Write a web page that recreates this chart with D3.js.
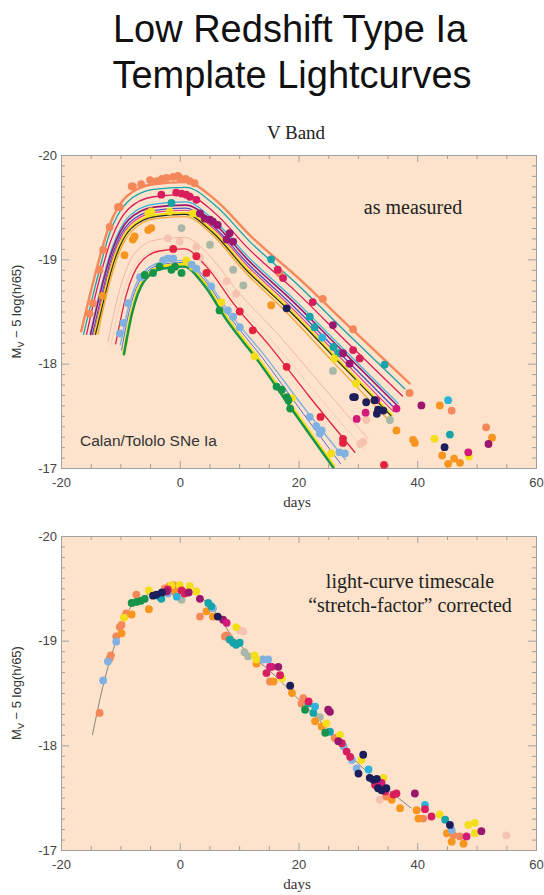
<!DOCTYPE html>
<html><head><meta charset="utf-8">
<script src="https://cdn.jsdelivr.net/npm/d3@7"></script>
<style>body{margin:0;background:#fff}svg{display:block}</style>
</head><body>
<svg id="c" width="544" height="895"></svg>
<script>
// ---------- tick labels ----------
const xTickValues = [-20, 0, 20, 40, 60];
const yTickValues = [-20, -19, -18, -17];

// ---------- top panel: template fits (day, magnitude) ----------
const fitSalmon   = [[-16.6,-18.31],[-14.5,-18.80],[-12.0,-19.30],[-9.0,-19.60],[-4.5,-19.72],[1,-19.74],[6,-19.57],[12,-19.22],[20,-18.82],[29,-18.33],[38.7,-17.81]];
const fitTeal     = [[-16.2,-18.28],[-14.2,-18.75],[-11.8,-19.25],[-8.8,-19.55],[-4.4,-19.67],[1.0,-19.69],[5.9,-19.52],[11.8,-19.17],[19.6,-18.77],[28.4,-18.28],[37.9,-17.76]];
const fitCrimson  = [[-15.7,-18.28],[-14.1,-18.68],[-11.6,-19.18],[-8.7,-19.48],[-4.4,-19.60],[1.0,-19.62],[5.8,-19.45],[11.6,-19.10],[19.4,-18.70],[28.1,-18.21],[37.5,-17.69]];
const fitCyan     = [[-15.1,-18.28],[-13.8,-18.61],[-11.4,-19.11],[-8.6,-19.41],[-4.3,-19.53],[1.0,-19.55],[5.7,-19.38],[11.4,-19.03],[19.0,-18.63],[27.6,-18.14],[36.8,-17.62]];
const fitPurple   = [[-15.0,-18.28],[-13.8,-18.58],[-11.4,-19.08],[-8.6,-19.38],[-4.3,-19.50],[1.0,-19.52],[5.7,-19.35],[11.4,-19.00],[19.0,-18.60],[27.6,-18.11],[36.8,-17.59]];
const fitBlue     = [[-14.7,-18.28],[-13.6,-18.55],[-11.3,-19.05],[-8.5,-19.35],[-4.2,-19.47],[0.9,-19.49],[5.6,-19.32],[11.3,-18.97],[18.8,-18.57],[27.3,-18.08],[36.4,-17.56]];
const fitPink     = [[-14.5,-18.28],[-13.5,-18.53],[-11.2,-19.03],[-8.4,-19.33],[-4.2,-19.45],[0.9,-19.47],[5.6,-19.30],[11.2,-18.95],[18.6,-18.55],[27.0,-18.06],[36.0,-17.54]];
const fitYellowA  = [[-14.2,-18.29],[-13.3,-18.50],[-11.0,-19.00],[-8.3,-19.30],[-4.1,-19.42],[0.9,-19.44],[5.5,-19.27],[11.0,-18.92],[18.4,-18.52],[26.7,-18.03],[35.6,-17.51]];
const fitBlack    = [[-14.2,-18.28],[-13.3,-18.49],[-11.0,-18.99],[-8.3,-19.29],[-4.1,-19.41],[0.9,-19.43],[5.5,-19.26],[11.0,-18.91],[18.4,-18.51],[26.7,-18.02],[35.6,-17.50]];
const fitOrange   = [[-13.8,-18.28],[-13.1,-18.47],[-10.8,-18.97],[-8.1,-19.27],[-4.1,-19.39],[0.9,-19.41],[5.4,-19.24],[10.8,-18.89],[18.0,-18.49],[26.1,-18.00],[34.8,-17.48]];
const fitPale1    = [[-12.1,-18.21],[-9.8,-18.77],[-7.4,-19.07],[-3.7,-19.19],[0.8,-19.21],[4.9,-19.04],[9.8,-18.69],[16.4,-18.29],[23.8,-17.80],[31.7,-17.28]];
const fitPale2    = [[-11.6,-18.18],[-9.6,-18.67],[-7.2,-18.97],[-3.6,-19.09],[0.8,-19.11],[4.8,-18.94],[9.6,-18.59],[16.0,-18.19],[23.2,-17.70],[31.0,-17.18]];
const fitRed      = [[-10.8,-18.19],[-9.0,-18.66],[-6.75,-18.96],[-3.4,-19.08],[0.75,-19.10],[4.5,-18.93],[9.0,-18.58],[15.0,-18.18],[21.75,-17.69],[29.5,-17.15]];
const fitLightBlue= [[-10.0,-18.18],[-8.6,-18.55],[-6.5,-18.85],[-3.2,-18.97],[0.7,-18.99],[4.3,-18.82],[8.6,-18.47],[14.4,-18.07],[20.9,-17.58],[27.9,-17.08]];
const fitBlueThin = [[-9.8,-18.13],[-8.4,-18.53],[-6.3,-18.83],[-3.15,-18.95],[0.7,-18.97],[4.2,-18.80],[8.4,-18.45],[14.0,-18.05],[20.3,-17.56],[27.1,-17.04]];
const fitYellowB  = [[-9.4,-18.10],[-8.0,-18.51],[-6.0,-18.81],[-3.0,-18.93],[0.7,-18.95],[4.0,-18.78],[8.0,-18.43],[13.4,-18.03],[19.4,-17.54],[25.9,-17.02]];
const fitGreen    = [[-9.4,-18.09],[-8.0,-18.49],[-6.0,-18.79],[-3.0,-18.91],[0.7,-18.93],[4.0,-18.76],[8.0,-18.41],[13.4,-18.01],[19.4,-17.52],[25.9,-17.00]];

// ---------- top panel: measured points (day, magnitude) ----------
const topSalmon = [[-15.2,-18.48],[-14.6,-18.58],[-13.5,-18.90],[-12.9,-19.09],[-11.8,-19.31],[-10.4,-19.50],[-10.1,-19.50],[-8.1,-19.70],[-7.9,-19.70],[-6.5,-19.72],[-5.0,-19.76],[-3.9,-19.75],[-3.0,-19.77],[-2.2,-19.78],[-1.1,-19.79],[-0.3,-19.80],[0,-19.78],[1.0,-19.77],[1.7,-19.75],[2.5,-19.73],[16.8,-18.87],[24.1,-18.62],[29.2,-18.33],[38.7,-17.72],[45.8,-17.55],[51.6,-17.39]];
const topTeal = [[-1.4,-19.54],[15.4,-19.00],[21.9,-18.45],[22.7,-18.35],[25.9,-18.16],[26.7,-18.10],[34.5,-17.99],[45.5,-17.32]];
const topCyan = [[24.0,-18.25],[45.2,-17.65]];
const topCrimson = [[-3.1,-19.62],[-0.6,-19.64],[0.3,-19.63],[1.1,-19.62],[1.7,-19.60],[2.8,-19.57],[16.5,-18.90],[17.4,-18.82],[22.4,-18.59],[29.2,-18.13],[30.3,-18.05]];
const topRed = [[-1.1,-19.10],[2.8,-19.03],[4.5,-18.87],[10.1,-18.50],[12.3,-18.32],[18.0,-17.97],[23.7,-17.49],[27.5,-17.28],[27.5,-17.24],[34.4,-17.03]];
const topPurple = [[3.4,-19.44],[4.2,-19.39],[5.1,-19.38],[5.6,-19.36],[6.4,-19.33],[8.4,-19.25],[7.9,-19.19],[9.0,-19.17],[25.8,-18.37],[27.5,-18.10],[28.6,-18.00],[40.7,-17.60],[52.0,-17.23]];
const topMagenta = [[29.8,-17.47],[31.3,-17.53],[33.1,-17.65],[36.5,-17.57],[48.6,-17.15]];
const topYellow = [[-5.3,-19.44],[-4.8,-19.46],[-1.7,-19.46],[2.2,-19.44],[1.1,-18.99],[2.2,-18.93],[7.0,-18.59],[12.6,-18.07],[18.9,-17.67],[25.5,-17.14],[26.0,-18.05],[29.7,-17.81],[42.9,-17.28],[48.7,-17.11]];
const topOrange = [[-13.0,-18.65],[-9.3,-19.04],[-7.9,-19.19],[-7.6,-19.22],[-5.3,-19.28],[-4.8,-19.30],[15.4,-18.56],[36.5,-17.36],[39.3,-17.27],[39.6,-17.24],[43.8,-17.60],[44.2,-17.12],[45.2,-17.04],[46.2,-17.09],[47.2,-17.05],[52.6,-17.29]];
const topGreyGreen = [[0.3,-19.30],[5.1,-19.14],[9.0,-18.90],[10.7,-18.75],[25.8,-17.93],[35.4,-17.46]];
const topPalePink = [[-2.0,-19.20],[0,-19.17],[2.8,-19.12],[3.4,-19.02],[7.9,-18.79],[9.5,-18.67],[30.4,-17.23],[30.9,-17.25],[31.4,-17.46]];
const topLightBlue = [[-10.1,-18.29],[-9.5,-18.39],[-8.7,-18.58],[-6.7,-18.83],[-6.4,-18.83],[-2.8,-18.99],[-2.0,-19.01],[-1.1,-19.01],[2.0,-18.95],[2.8,-18.91],[5.3,-18.74],[8.1,-18.51],[9.0,-18.45],[10.1,-18.35],[21.9,-17.49],[23.0,-17.40],[23.6,-17.33],[23.9,-17.36],[26.9,-17.15],[27.8,-17.14]];
const topGreen = [[-5.9,-18.85],[-4.5,-18.87],[-3.4,-18.93],[-1.4,-18.90],[-0.8,-18.93],[0.3,-18.87],[6.7,-18.51],[16.3,-17.78],[17.2,-17.75],[18.0,-17.68],[18.3,-17.65],[18.6,-17.57]];
const topNavy = [[18.0,-18.53],[29.2,-17.68],[29.5,-17.68],[31.4,-17.63],[32.8,-17.65],[33.2,-17.52],[33.4,-17.56],[34.3,-17.55],[44.6,-17.20]];

// ---------- bottom panel: stretch-corrected template and points ----------
const template = [[-14.7,-18.10],[-13,-18.55],[-11,-18.95],[-9,-19.25],[-6,-19.42],[-3,-19.48],[0,-19.50],[3,-19.44],[6,-19.27],[9,-19.03],[12,-18.86],[15,-18.72],[20,-18.44],[25,-18.15],[30,-17.83],[35,-17.58],[39,-17.40]];
const botSalmon = [[-13.5,-18.31],[-11.8,-18.83],[-11.6,-18.86],[-10.7,-19.04],[-10.1,-19.13],[-9.8,-19.15],[-9.0,-19.26],[-9.3,-19.23],[-7.3,-19.44],[-2.5,-19.50],[-1.7,-19.52],[-1.1,-19.53],[-0.6,-19.52],[0,-19.50],[3.4,-19.23],[7.6,-19.04],[7.9,-19.05],[15.2,-18.61],[20.8,-18.45],[20.5,-18.40],[26.1,-18.07],[34.8,-17.51],[41.0,-17.30],[46.1,-17.14],[47.2,-17.13]];
const botLightBlue = [[-12.9,-18.62],[-12.1,-18.80],[-10.7,-18.99],[-2.0,-19.45],[5.6,-19.31],[14.0,-18.82],[14.9,-18.82],[27.6,-17.99],[29.0,-17.86],[29.8,-17.78],[45.8,-17.19]];
const botOrange = [[-9.8,-19.07],[-8.1,-19.25],[-5.2,-19.30],[-1.0,-19.47],[4.5,-19.28],[5.6,-19.23],[12.9,-18.78],[15.8,-18.61],[18.9,-18.50],[22.8,-18.23],[23.9,-18.18],[35.7,-17.48],[37.1,-17.40],[39.9,-17.38],[40.2,-17.30],[45.0,-17.16],[45.8,-17.08],[47.8,-17.06]];
const botYellow = [[-9.4,-19.22],[-5.2,-19.48],[-1.4,-19.53],[0,-19.53],[1.7,-19.52],[2.8,-19.47],[9.5,-19.13],[12.6,-18.86],[12.9,-18.82],[17.2,-18.64],[24.7,-18.21],[27.0,-18.10],[30.6,-17.86],[34.3,-17.69],[43.8,-17.34],[48.6,-17.24],[49.7,-17.26],[49.7,-17.16]];
const botGreen = [[-8.1,-19.36],[-7.3,-19.37],[-6.6,-19.38],[-5.9,-19.40],[21.1,-18.34],[24.5,-18.12]];
const botNavy = [[-4.5,-19.43],[-3.9,-19.44],[-3.0,-19.46],[6.4,-19.23],[18.6,-18.57],[30.9,-17.91],[30.1,-17.73],[32.0,-17.69],[32.6,-17.67],[33.2,-17.68],[33.4,-17.59],[34.0,-17.57],[34.8,-17.59],[45.5,-17.24]];
const botTeal = [[-3.4,-19.42],[-3.1,-19.40],[4.8,-19.36],[5.3,-19.33],[8.4,-19.01],[9.0,-18.98],[9.5,-18.96],[10.1,-18.98],[21.7,-18.40],[22.5,-18.31],[25.3,-18.13],[44.7,-17.29]];
const botCrimson = [[-2.0,-19.49],[0.3,-19.48],[0.8,-19.45],[14.6,-18.69],[15.5,-18.75],[16.9,-18.67],[21.7,-18.42],[27.3,-18.02],[28.1,-17.94],[28.7,-17.89],[32.9,-17.62],[34.6,-17.56],[36.0,-17.53],[36.5,-17.54],[41.3,-17.39],[42.4,-17.32]];
const botPurple = [[-2.2,-19.47],[1.5,-19.46],[3.4,-19.40],[7.3,-19.20],[16.6,-18.75],[25.0,-18.34],[25.3,-18.32],[26.7,-18.04],[39.6,-17.54],[50.8,-17.18]];
const botMagenta = [[7.9,-19.17],[15.2,-18.75],[34.0,-17.64],[48.3,-17.13]];
const botGreyGreen = [[0.3,-19.39],[10.9,-18.89],[11.5,-18.85],[23.6,-18.27]];
const botCyan = [[-0.5,-19.42],[22.8,-18.37],[31.8,-17.77],[41.3,-17.43]];
const botPalePink = [[10.1,-19.10],[10.7,-19.09],[33.7,-17.48],[55.0,-17.14]];

// ---------- styles ----------
const C = {
  salmon:"#f5885b", teal:"#17a3aa", cyan:"#2cb3dc", crimson:"#d81e5c", red:"#e3223f",
  purple:"#9a166f", magenta:"#d3197a", yellow:"#f4de1a", orange:"#f7951f",
  greygreen:"#a9b8a6", palepink:"#f7c3b1", lightblue:"#80b1e1", green:"#15944a",
  navy:"#1c1e5c", blue:"#4b50c4", black:"#2a2a24", pink:"#e8397a"
};
const bg = "#fde3cb", axisCol = "#a0a0a0";
const SANS = "Liberation Sans, Arial, sans-serif", SERIF = "Liberation Serif, Times New Roman, serif";

const svg = d3.select("#c");
const x = d3.scaleLinear().domain([-20, 60]).range([61, 536]);
const yT = d3.scaleLinear().domain([-20, -17]).range([155, 468]);
const yB = d3.scaleLinear().domain([-20, -17]).range([536, 850]);

// Title
svg.append("text").attr("x", 290).attr("y", 42).attr("text-anchor","middle")
  .attr("font-family",SANS).attr("font-size",38).attr("fill","#111").text("Low Redshift Type Ia");
svg.append("text").attr("x", 292).attr("y", 88).attr("text-anchor","middle")
  .attr("font-family",SANS).attr("font-size",38).attr("fill","#111").text("Template Lightcurves");
svg.append("text").attr("x", 296).attr("y", 139).attr("text-anchor","middle")
  .attr("font-family",SERIF).attr("font-size",19).attr("fill","#222").text("V Band");

const minorX = d3.range(-20, 61, 5).filter(v => v % 20 !== 0);
const minorY = d3.range(0, 31).map(i => -20 + i * 0.1).filter(v => Math.abs(v - Math.round(v)) > 0.01);

function panel(y) {
  const g = svg.append("g");
  const [x0, x1] = x.range(), [y0, y1] = y.range();
  g.append("rect").attr("x", x0).attr("y", y0).attr("width", x1 - x0).attr("height", y1 - y0).attr("fill", bg);
  const fmt = d => String(d);
  const styleAxis = sel => {
    sel.selectAll(".domain").attr("stroke", axisCol);
    sel.selectAll(".tick line").attr("stroke", axisCol);
    sel.selectAll("text").attr("font-family",SANS).attr("font-size",13).attr("fill","#444");
  };
  g.append("g").attr("transform",`translate(0,${y1})`).call(d3.axisBottom(x).tickValues(xTickValues).tickFormat(fmt).tickSize(-7).tickSizeOuter(0).tickPadding(10)).call(styleAxis);
  g.append("g").attr("transform",`translate(0,${y1})`).call(d3.axisBottom(x).tickValues(minorX).tickFormat("").tickSize(-4).tickSizeOuter(0)).call(styleAxis);
  g.append("g").attr("transform",`translate(0,${y0})`).call(d3.axisTop(x).tickValues(xTickValues).tickFormat("").tickSize(-7).tickSizeOuter(0)).call(styleAxis);
  g.append("g").attr("transform",`translate(0,${y0})`).call(d3.axisTop(x).tickValues(minorX).tickFormat("").tickSize(-4).tickSizeOuter(0)).call(styleAxis);
  g.append("g").attr("transform",`translate(${x0},0)`).call(d3.axisLeft(y).tickValues(yTickValues).tickFormat(fmt).tickSize(-8).tickSizeOuter(0).tickPadding(4)).call(styleAxis);
  g.append("g").attr("transform",`translate(${x0},0)`).call(d3.axisLeft(y).tickValues(minorY).tickFormat("").tickSize(-4).tickSizeOuter(0)).call(styleAxis);
  g.append("g").attr("transform",`translate(${x1},0)`).call(d3.axisRight(y).tickValues(yTickValues).tickFormat("").tickSize(-8).tickSizeOuter(0)).call(styleAxis);
  g.append("g").attr("transform",`translate(${x1},0)`).call(d3.axisRight(y).tickValues(minorY).tickFormat("").tickSize(-4).tickSizeOuter(0)).call(styleAxis);
  g.append("text").attr("x", 297).attr("y", y1 + 39).attr("text-anchor","middle")
    .attr("font-family",SERIF).attr("font-size",15).attr("fill","#333").text("days");
  const cy = (y0 + y1) / 2;
  const t = g.append("text").attr("transform",`translate(21,${cy}) rotate(-90)`).attr("text-anchor","middle")
    .attr("font-family",SANS).attr("font-size",13).attr("fill","#333");
  t.append("tspan").text("M");
  t.append("tspan").attr("font-size",9).attr("dy",3).text("V");
  t.append("tspan").attr("dy",-3).text(" \u2212 5 log(h/65)");
  return g;
}

const gTop = panel(yT);
const gBot = panel(yB);

const lineT = d3.line().x(d => x(d[0])).y(d => yT(d[1])).curve(d3.curveMonotoneX);
const topFits = [
  [fitPale2, "#f8cdbd", 1], [fitPale1, "#f4b6a4", 1],
  [fitSalmon, C.salmon, 2.4], [fitTeal, C.teal, 1.3], [fitCrimson, C.crimson, 1.3],
  [fitCyan, C.cyan, 1.2], [fitPurple, C.purple, 1.6], [fitBlue, C.blue, 1.3],
  [fitPink, C.pink, 1.1], [fitYellowA, C.yellow, 3.2], [fitBlack, C.black, 1.2],
  [fitOrange, "#f5a636", 1.3],
  [fitRed, C.red, 1.3], [fitLightBlue, C.lightblue, 1.4], [fitBlueThin, "#5b6ccf", 1],
  [fitYellowB, C.yellow, 3.4], [fitGreen, C.green, 2.4]
];
svg.append("clipPath").attr("id", "clipTop").append("rect").attr("x",61).attr("y",155).attr("width",475).attr("height",313);
const topLines = gTop.append("g").attr("clip-path","url(#clipTop)");
topFits.forEach(([pts, col, w]) => {
  topLines.append("path").attr("d", lineT(pts)).attr("fill","none").attr("stroke",col).attr("stroke-width",w).attr("stroke-linecap","round");
});

function dots(g, pts, col, y) {
  g.selectAll(null).data(pts).enter().append("circle")
    .attr("cx", d => x(d[0])).attr("cy", d => y(d[1])).attr("r", 3.9).attr("fill", col);
}
const topDotsG = gTop.append("g");
[[topPalePink, C.palepink],[topGreyGreen, C.greygreen],[topSalmon, C.salmon],[topOrange, C.orange],
 [topTeal, C.teal],[topCyan, C.cyan],[topYellow, C.yellow],[topLightBlue, C.lightblue],[topGreen, C.green],
 [topCrimson, C.crimson],[topRed, C.red],[topPurple, C.purple],[topMagenta, C.magenta],[topNavy, C.navy]]
 .forEach(([p, c]) => dots(topDotsG, p, c, yT));

gTop.append("text").attr("x", 413).attr("y", 214).attr("text-anchor","middle")
  .attr("font-family",SERIF).attr("font-size",20).attr("fill","#222").text("as measured");
gTop.append("text").attr("x", 80).attr("y", 446)
  .attr("font-family",SANS).attr("font-size",15.5).attr("fill","#333").text("Calan/Tololo SNe Ia");

const lineB = d3.line().x(d => x(d[0])).y(d => yB(d[1])).curve(d3.curveMonotoneX);
gBot.append("path").attr("d", lineB(template)).attr("fill","none").attr("stroke","#7d776f").attr("stroke-width",0.9);
const botDotsG = gBot.append("g");
[[botPalePink, C.palepink],[botGreyGreen, C.greygreen],[botSalmon, C.salmon],[botOrange, C.orange],
 [botLightBlue, C.lightblue],[botYellow, C.yellow],[botTeal, C.teal],[botCyan, C.cyan],[botGreen, C.green],
 [botCrimson, C.crimson],[botPurple, C.purple],[botMagenta, C.magenta],[botNavy, C.navy]]
 .forEach(([p, c]) => dots(botDotsG, p, c, yB));

gBot.append("text").attr("x", 410).attr("y", 588).attr("text-anchor","middle")
  .attr("font-family",SERIF).attr("font-size",20).attr("fill","#222").text("light-curve timescale");
gBot.append("text").attr("x", 410).attr("y", 612).attr("text-anchor","middle")
  .attr("font-family",SERIF).attr("font-size",20).attr("fill","#222").text("\u201Cstretch-factor\u201D corrected");
</script>
</body></html>
